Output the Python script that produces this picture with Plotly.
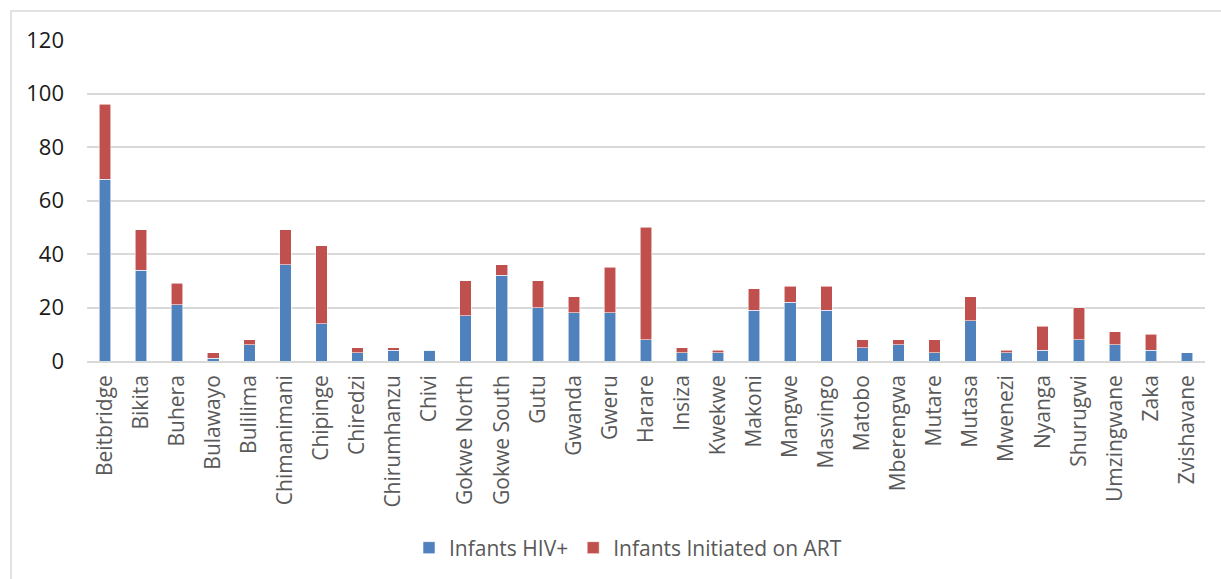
import plotly.graph_objects as go

districts = [
    "Beitbridge", "Bikita", "Buhera", "Bulawayo", "Bulilima", "Chimanimani",
    "Chipinge", "Chiredzi", "Chirumhanzu", "Chivi", "Gokwe North", "Gokwe South",
    "Gutu", "Gwanda", "Gweru", "Harare", "Insiza", "Kwekwe", "Makoni", "Mangwe",
    "Masvingo", "Matobo", "Mberengwa", "Mutare", "Mutasa", "Mwenezi", "Nyanga",
    "Shurugwi", "Umzingwane", "Zaka", "Zvishavane",
]
infants_hiv_pos = [68, 34, 21, 1, 6, 36, 14, 3, 4, 4, 17, 32, 20, 18, 18, 8,
                   3, 3, 19, 22, 19, 5, 6, 3, 15, 3, 4, 8, 6, 4, 3]
infants_on_art = [28, 15, 8, 2, 2, 13, 29, 2, 1, 0, 13, 4, 10, 6, 17, 42,
                  2, 1, 8, 6, 9, 3, 2, 5, 9, 1, 9, 12, 5, 6, 0]
y_ticks = [0, 20, 40, 60, 80, 100, 120]

BLUE = "#4F81BD"
RED = "#C0504D"
GRID = "#D9D9D9"
TEXT = "#595959"
FONT = "Open Sans"

fig = go.Figure()
fig.add_bar(x=districts, y=infants_hiv_pos, name="Infants HIV+",
            marker=dict(color=BLUE, line=dict(color="rgba(255,255,255,0.7)", width=0.8)))
fig.add_bar(x=districts, y=infants_on_art, name="Infants Initiated on ART",
            marker=dict(color=RED, line=dict(color="rgba(255,255,255,0.7)", width=0.8)))

W, H = 1221, 579
ml, mr, mt, mb = 87, 16, 40, 217
pw, ph = W - ml - mr, H - mt - mb

def px_x(p):
    return (p - ml) / pw

def px_y(p):
    return (H - mb - p) / ph

fig.update_layout(
    width=W, height=H,
    margin=dict(l=ml, r=mr, t=mt, b=mb, pad=0),
    barmode="stack",
    bargap=0.68,
    plot_bgcolor="white",
    paper_bgcolor="white",
    font=dict(family=FONT, size=21, color=TEXT),
    showlegend=True,
    legend=dict(
        orientation="h",
        x=px_x(628), xanchor="center",
        y=px_y(548), yanchor="middle",
        font=dict(family=FONT, size=21, color=TEXT),
        traceorder="normal",
        itemclick=False, itemdoubleclick=False,
    ),
    xaxis=dict(
        tickangle=-90,
        showgrid=False,
        showline=True, linecolor=GRID, linewidth=1.5,
        ticks="",
        tickfont=dict(family=FONT, size=21, color=TEXT),
        ticklabelstandoff=4,
        fixedrange=True,
    ),
    yaxis=dict(
        range=[0, 120],
        tickvals=y_ticks,
        showgrid=True, gridcolor=GRID, gridwidth=1.5,
        zeroline=False,
        showline=False,
        ticks="",
        tickfont=dict(family=FONT, size=22, color="#1a1a1a"),
        ticklabelstandoff=22,
        fixedrange=True,
    ),
    shapes=[
        dict(type="rect", xref="paper", yref="paper",
             x0=px_x(11), x1=px_x(1230), y0=px_y(11), y1=px_y(590),
             line=dict(color=GRID, width=1.5), fillcolor="rgba(0,0,0,0)",
             layer="below"),
    ],
)

fig.write_html("out.html", config={"displayModeBar": False})
